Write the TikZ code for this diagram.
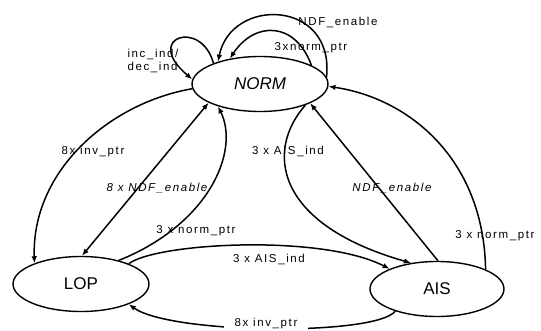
\documentclass[tikz,border=0pt]{standalone}
\usepackage{fontspec}
\setmainfont{Liberation Sans}
\newfontfamily\lblfont[LetterSpace=14]{Liberation Sans}
\usetikzlibrary{arrows.meta,shapes.geometric}

\begin{document}
\begin{tikzpicture}[x=1pt,y=-1pt,
  state/.style={draw, ellipse, line width=1.4pt, minimum width=136pt,
    minimum height=55pt, inner sep=0pt, font=\fontsize{17}{17}\selectfont},
  tip/.tip={Latex[length=7pt,width=5.5pt]},
  tr/.style={line width=1.5pt, -tip},
  lbl/.style={inner sep=0pt, font=\lblfont\fontsize{11.5}{13}\selectfont}]
\useasboundingbox (0,0) rectangle (541,331);

% states
\node[state] (norm) at (260,84) {\itshape NORM};
\node[state] (lop) at (81,284) {LOP};
\node[state, minimum width=134pt] (ais) at (437,289) {AIS};

% self loops on NORM
\draw[tr] (norm.156) .. controls +(-12,-45) and +(-50,-42) .. (norm.176);
\draw[tr] (norm.6) .. controls +(8,-78) and +(13,-65) .. (norm.152);
\draw[tr] (norm.20) .. controls +(-16,-44) and +(25,-38) .. (norm.140);

% NORM <-> LOP
\draw[tr] (norm.184) .. controls +(-82,14) and +(-3,-93) .. (lop.156);
\draw[tr, tip-tip] (lop.88) -- (norm.-160);
\draw[tr] (lop.32) .. controls +(90,-36) and +(22,45) .. (norm.-152);

% NORM <-> AIS
\draw[tr] (norm.-25) .. controls +(-40,45) and +(-137,-39) .. (ais.135);
\draw[tr] (ais.88) -- (norm.-21);
\draw[tr] (ais.22) .. controls +(-2,-110) and +(81,12) .. (norm.-2);

% LOP <-> AIS
\draw[tr] (lop.23) .. controls +(28,-21) and +(-68,-35) .. (ais.157);
\draw[tr] (ais.-152) .. controls +(-20,25) and +(42,30) .. (lop.-23);

% transition labels
\node[lbl, align=left] (lincdec) at (153,61) {inc\_ind/\\dec\_ind};
\node[lbl] (lndfloop) at (338,22) {NDF\_enable};
\node[lbl] (lnormloop) at (311,48) {3xnorm\_ptr};
\node[lbl] (linvleft) at (93,152) {8x inv\_ptr};
\node[lbl] (lndfeight) at (157,188) {\itshape 8 x NDF\_enable};
\node[lbl] (laisnorm) at (288,151) {3 x AIS\_ind};
\node[lbl] (lndf) at (392,188) {\itshape NDF\_enable};
\node[lbl] (lnormais) at (495,236) {3 x norm\_ptr};
\node[lbl] (lnormlop) at (196,231) {3 x norm\_ptr};
\node[lbl] (laislop) at (269,259) {3 x AIS\_ind};
\node[lbl, fill=white, inner xsep=11pt, inner ysep=2pt] (linvbot) at (266,324) {8x inv\_ptr};
\end{tikzpicture}
\end{document}
